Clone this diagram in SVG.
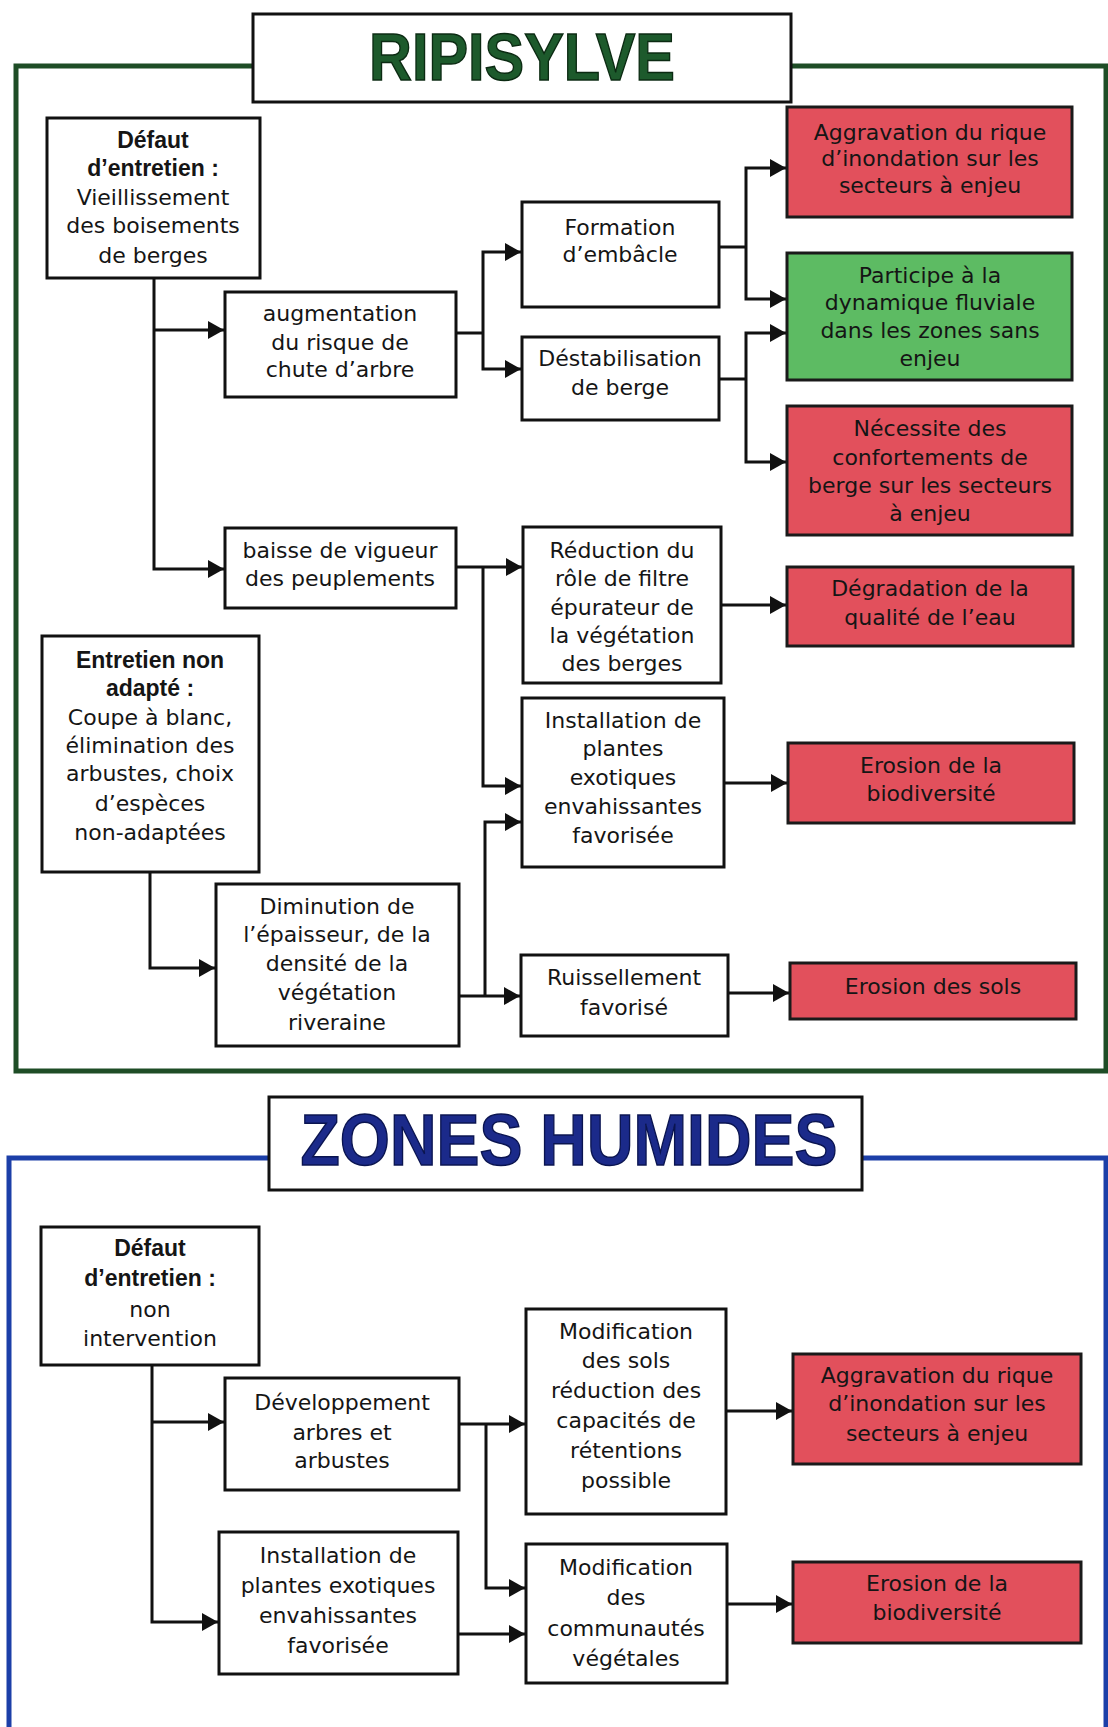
<svg xmlns="http://www.w3.org/2000/svg" width="1108" height="1727" viewBox="0 0 1108 1727">
<defs>
<marker id="ah" markerUnits="userSpaceOnUse" markerWidth="18" markerHeight="18" refX="16" refY="9" orient="auto">
<path d="M0,0 L16,9 L0,18 z" fill="#111"/>
</marker>
<style>
.box{fill:#fff;stroke:#111;stroke-width:3}
.red{fill:#e2505c;stroke:#1a1a1a;stroke-width:3}
.green{fill:#5dbb63;stroke:#1a1a1a;stroke-width:3}
text{font-family:"DejaVu Sans","Liberation Sans",sans-serif;font-size:22px;fill:#151515;text-anchor:middle}
.b{font-family:"Liberation Sans",Arial,sans-serif;font-weight:bold;font-size:23px}
.conn path{fill:none;stroke:#111;stroke-width:3}
.conn path.a{marker-end:url(#ah)}
text.title{font-family:"Liberation Sans",Arial,sans-serif;font-weight:bold;stroke-width:1.5}
text.t1{font-size:67px;fill:#1d5a2c;stroke:#0b2a12}
text.t2{font-size:72px;fill:#1b2a8a;stroke:#0a1450}
</style>
</defs>
<rect width="1108" height="1727" fill="#fff"/>

<!-- RIPISYLVE frame -->
<g id="frame-ripisylve">
<rect x="16" y="66" width="1090" height="1005" fill="none" stroke="#1e4d26" stroke-width="5"/>
<rect x="253" y="14" width="538" height="88" class="box"/>
<text class="title t1" x="522" y="80" textLength="306" lengthAdjust="spacingAndGlyphs">RIPISYLVE</text>
</g>

<!-- ZONES HUMIDES frame -->
<g id="frame-zh">
<rect x="9" y="1158" width="1097" height="1564" fill="none" stroke="#1c3fa8" stroke-width="5"/>
<rect x="269" y="1097" width="593" height="93" class="box"/>
<text class="title t2" x="569" y="1165" textLength="537" lengthAdjust="spacingAndGlyphs">ZONES HUMIDES</text>
</g>

<g class="conn">
<path class="a" d="M154,278 V569 H224"/>
<path class="a" d="M154,330 H224"/>
<path d="M456,333 H483"/>
<path class="a" d="M483,333 V252 H521"/>
<path class="a" d="M483,333 V369 H521"/>
<path d="M719,247 H746"/>
<path class="a" d="M746,247 V168 H786"/>
<path class="a" d="M746,247 V299 H786"/>
<path d="M719,379 H746"/>
<path class="a" d="M746,379 V333 H786"/>
<path class="a" d="M746,379 V462 H786"/>
<path class="a" d="M456,567 H522"/>
<path class="a" d="M483,567 V786 H521"/>
<path class="a" d="M721,605 H786"/>
<path class="a" d="M724,783 H787"/>
<path class="a" d="M150,872 V968 H215"/>
<path class="a" d="M459,996 H520"/>
<path class="a" d="M485,996 V822 H521"/>
<path class="a" d="M728,993 H789"/>
<path class="a" d="M152,1365 V1622 H218"/>
<path class="a" d="M152,1422 H224"/>
<path class="a" d="M459,1424 H525"/>
<path class="a" d="M486,1424 V1588 H525"/>
<path class="a" d="M458,1634 H525"/>
<path class="a" d="M726,1411 H792"/>
<path class="a" d="M727,1604 H792"/>
</g>

<g id="n-defaut-r">
<rect x="47" y="118" width="213" height="160" class="box"/>
<text class="b" x="153" y="148">Défaut</text>
<text class="b" x="153" y="176">d’entretien :</text>
<text x="153" y="205">Vieillissement</text>
<text x="153" y="233">des boisements</text>
<text x="153" y="263">de berges</text>
</g>
<g id="n-augmentation">
<rect x="225" y="292" width="231" height="105" class="box"/>
<text x="340" y="321">augmentation</text>
<text x="340" y="350">du risque de</text>
<text x="340" y="377">chute d’arbre</text>
</g>
<g id="n-formation">
<rect x="522" y="202" width="197" height="105" class="box"/>
<text x="620" y="235">Formation</text>
<text x="620" y="262">d’embâcle</text>
</g>
<g id="n-destab">
<rect x="522" y="337" width="197" height="83" class="box"/>
<text x="620" y="366">Déstabilisation</text>
<text x="620" y="395">de berge</text>
</g>
<g id="n-aggrav-r">
<rect x="787" y="107" width="285" height="110" class="red"/>
<text x="930" y="140">Aggravation du rique</text>
<text x="930" y="166">d’inondation sur les</text>
<text x="930" y="193">secteurs à enjeu</text>
</g>
<g id="n-participe">
<rect x="787" y="253" width="285" height="127" class="green"/>
<text x="930" y="283">Participe à la</text>
<text x="930" y="310">dynamique fluviale</text>
<text x="930" y="338">dans les zones sans</text>
<text x="930" y="366">enjeu</text>
</g>
<g id="n-necessite">
<rect x="787" y="406" width="285" height="129" class="red"/>
<text x="930" y="436">Nécessite des</text>
<text x="930" y="465">confortements de</text>
<text x="930" y="493">berge sur les secteurs</text>
<text x="930" y="521">à enjeu</text>
</g>
<g id="n-baisse">
<rect x="225" y="528" width="231" height="80" class="box"/>
<text x="340" y="558">baisse de vigueur</text>
<text x="340" y="586">des peuplements</text>
</g>
<g id="n-reduction">
<rect x="523" y="527" width="198" height="156" class="box"/>
<text x="622" y="558">Réduction du</text>
<text x="622" y="586">rôle de filtre</text>
<text x="622" y="615">épurateur de</text>
<text x="622" y="643">la végétation</text>
<text x="622" y="671">des berges</text>
</g>
<g id="n-degradation">
<rect x="787" y="567" width="286" height="79" class="red"/>
<text x="930" y="596">Dégradation de la</text>
<text x="930" y="625">qualité de l’eau</text>
</g>
<g id="n-entretien">
<rect x="42" y="636" width="217" height="236" class="box"/>
<text class="b" x="150" y="668">Entretien non</text>
<text class="b" x="150" y="696">adapté :</text>
<text x="150" y="725">Coupe à blanc,</text>
<text x="150" y="753">élimination des</text>
<text x="150" y="781">arbustes, choix</text>
<text x="150" y="811">d’espèces</text>
<text x="150" y="840">non-adaptées</text>
</g>
<g id="n-installation-r">
<rect x="522" y="698" width="202" height="169" class="box"/>
<text x="623" y="728">Installation de</text>
<text x="623" y="756">plantes</text>
<text x="623" y="785">exotiques</text>
<text x="623" y="814">envahissantes</text>
<text x="623" y="843">favorisée</text>
</g>
<g id="n-erosion-bio-r">
<rect x="788" y="743" width="286" height="80" class="red"/>
<text x="931" y="773">Erosion de la</text>
<text x="931" y="801">biodiversité</text>
</g>
<g id="n-diminution">
<rect x="216" y="884" width="243" height="162" class="box"/>
<text x="337" y="914">Diminution de</text>
<text x="337" y="942">l’épaisseur, de la</text>
<text x="337" y="971">densité de la</text>
<text x="337" y="1000">végétation</text>
<text x="337" y="1030">riveraine</text>
</g>
<g id="n-ruissellement">
<rect x="521" y="955" width="207" height="81" class="box"/>
<text x="624" y="985">Ruissellement</text>
<text x="624" y="1015">favorisé</text>
</g>
<g id="n-erosion-sols">
<rect x="790" y="963" width="286" height="56" class="red"/>
<text x="933" y="994">Erosion des sols</text>
</g>

<g id="n-defaut-zh">
<rect x="41" y="1227" width="218" height="138" class="box"/>
<text class="b" x="150" y="1256">Défaut</text>
<text class="b" x="150" y="1286">d’entretien :</text>
<text x="150" y="1317">non</text>
<text x="150" y="1346">intervention</text>
</g>
<g id="n-developpement">
<rect x="225" y="1378" width="234" height="112" class="box"/>
<text x="342" y="1410">Développement</text>
<text x="342" y="1440">arbres et</text>
<text x="342" y="1468">arbustes</text>
</g>
<g id="n-modif-sols">
<rect x="526" y="1309" width="200" height="205" class="box"/>
<text x="626" y="1339">Modification</text>
<text x="626" y="1368">des sols</text>
<text x="626" y="1398">réduction des</text>
<text x="626" y="1428">capacités de</text>
<text x="626" y="1458">rétentions</text>
<text x="626" y="1488">possible</text>
</g>
<g id="n-aggrav-zh">
<rect x="793" y="1354" width="288" height="110" class="red"/>
<text x="937" y="1383">Aggravation du rique</text>
<text x="937" y="1411">d’inondation sur les</text>
<text x="937" y="1441">secteurs à enjeu</text>
</g>
<g id="n-installation-zh">
<rect x="219" y="1532" width="239" height="142" class="box"/>
<text x="338" y="1563">Installation de</text>
<text x="338" y="1593">plantes exotiques</text>
<text x="338" y="1623">envahissantes</text>
<text x="338" y="1653">favorisée</text>
</g>
<g id="n-modif-comm">
<rect x="526" y="1544" width="201" height="139" class="box"/>
<text x="626" y="1575">Modification</text>
<text x="626" y="1605">des</text>
<text x="626" y="1636">communautés</text>
<text x="626" y="1666">végétales</text>
</g>
<g id="n-erosion-bio-zh">
<rect x="793" y="1562" width="288" height="81" class="red"/>
<text x="937" y="1591">Erosion de la</text>
<text x="937" y="1620">biodiversité</text>
</g>
</svg>
